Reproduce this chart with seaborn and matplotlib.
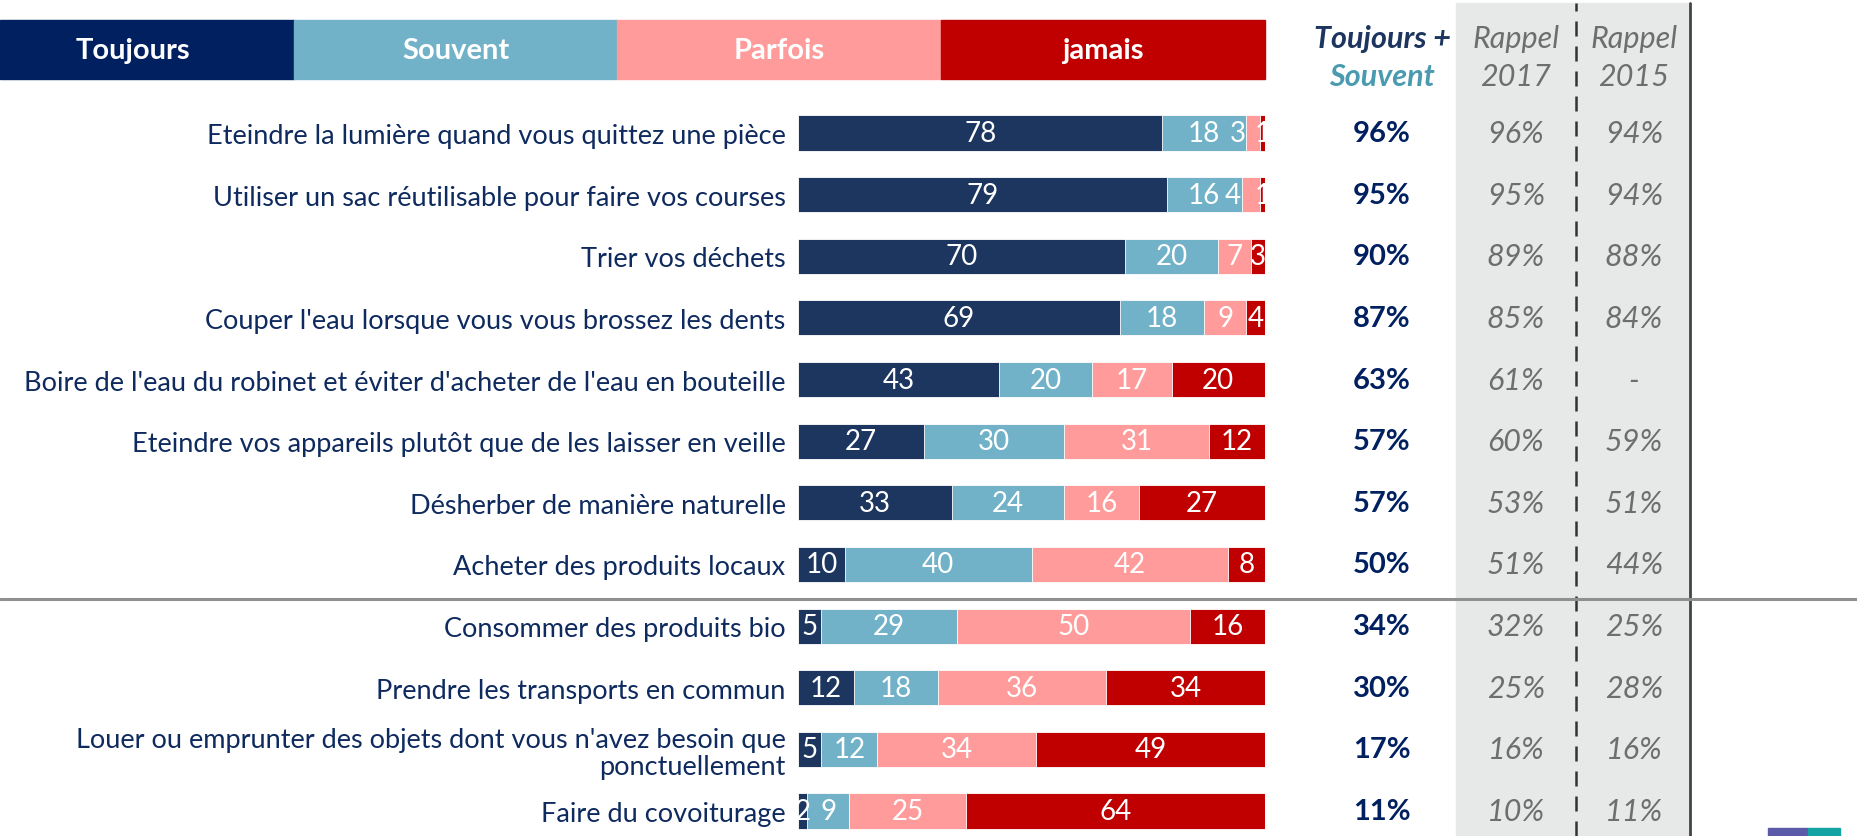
import matplotlib
matplotlib.use("Agg")
import matplotlib.pyplot as plt
import matplotlib.transforms as mtransforms
from matplotlib.patches import Rectangle
from matplotlib.lines import Line2D
import seaborn as sns
import pandas as pd
import numpy as np

# données
actions = [
    "Eteindre la lumière quand vous quittez une pièce",
    "Utiliser un sac réutilisable pour faire vos courses",
    "Trier vos déchets",
    "Couper l'eau lorsque vous vous brossez les dents",
    "Boire de l'eau du robinet et éviter d'acheter de l'eau en bouteille",
    "Eteindre vos appareils plutôt que de les laisser en veille",
    "Désherber de manière naturelle",
    "Acheter des produits locaux",
    "Consommer des produits bio",
    "Prendre les transports en commun",
    "Louer ou emprunter des objets dont vous n'avez besoin que\nponctuellement",
    "Faire du covoiturage",
]
toujours = [78, 79, 70, 69, 43, 27, 33, 10, 5, 12, 5, 2]
souvent = [18, 16, 20, 18, 20, 30, 24, 40, 29, 18, 12, 9]
parfois = [3, 4, 7, 9, 17, 31, 16, 42, 50, 36, 34, 25]
jamais = [1, 1, 3, 4, 20, 12, 27, 8, 16, 34, 49, 64]
total_ts = ["96%", "95%", "90%", "87%", "63%", "57%", "57%", "50%", "34%", "30%", "17%", "11%"]
rappel_2017 = ["96%", "95%", "89%", "85%", "61%", "60%", "53%", "51%", "32%", "25%", "16%", "10%"]
rappel_2015 = ["94%", "94%", "88%", "84%", "-", "59%", "51%", "44%", "25%", "28%", "16%", "11%"]

categories = ["Toujours", "Souvent", "Parfois", "jamais"]
bar_colors = ["#1d365f", "#71b2c9", "#ff9b9b", "#c00000"]
header_colors = ["#002060", "#71b2c9", "#ff9b9b", "#c00000"]
navy = "#0e2a5e"
grey_txt = "#6e6e6e"

sns.set_style("white")
plt.rcParams['font.family'] = ['Lato', 'DejaVu Sans']

W, H = 1857, 837
fig = plt.figure(figsize=(W / 100, H / 100), dpi=100)

def fx(px):
    return px / W

def fy(py):
    return 1 - py / H

# bande grise des rappels (derrière les axes)
fig.patches.append(Rectangle((fx(1456), 0), fx(1690) - fx(1456), fy(4),
                             transform=fig.transFigure, color="#e7e8e8", zorder=-2))
fig.lines.append(Line2D([fx(1576), fx(1576)], [0, fy(4)], transform=fig.transFigure,
                        color="#333333", lw=1.8, ls=(0, (6, 4)), zorder=-1))
fig.lines.append(Line2D([fx(1690), fx(1690)], [0, fy(4)], transform=fig.transFigure,
                        color="#444444", lw=2, zorder=-1))

# en-tête légende
edges = [0, 294, 617, 941, 1265]
text_x = [133, 456, 779, 1103]
for i, cat in enumerate(categories):
    fig.patches.append(Rectangle((fx(edges[i]), fy(80)), fx(edges[i + 1] - edges[i]), fy(21) - fy(80),
                                 transform=fig.transFigure, color=header_colors[i], zorder=-1))
    fig.text(fx(text_x[i]), fy(51), cat, color="white",
             fontsize=21, fontweight="bold", ha="center", va="center")

# barres empilées
ax = fig.add_axes([fx(798), 0, fx(1265) - fx(798), fy(103.2)])
ax.patch.set_alpha(0)
df = pd.DataFrame({"action": actions, "Toujours": toujours, "Souvent": souvent,
                   "Parfois": parfois, "jamais": jamais})
cum = df[categories].cumsum(axis=1)
for i in range(3, -1, -1):
    sns.barplot(x=cum[categories[i]], y=df["action"], color=bar_colors[i], orient="h",
                width=0.57, saturation=1, edgecolor="white", linewidth=0.6, ax=ax)

for r in range(len(actions)):
    left = 0
    for i, cat in enumerate(categories):
        v = df.loc[r, cat]
        x, ha = left + v / 2, "center"
        # segments trop étroits : étiquette décalée comme dans l'original
        if cat == "jamais" and v <= 1:
            x, ha = left - 1.2, "left"
        elif cat == "Parfois" and v <= 4 and df.loc[r, "jamais"] <= 1:
            x, ha = left - 0.2, "right"
        ax.text(x, r, str(v), color="white", fontsize=20,
                ha=ha, va="center", clip_on=True)
        left += v

ax.set_xlim(0, 100)
ax.set_ylim(11 + (837 - 812) / 61.64, -0.5)
ax.set_xlabel("")
ax.set_ylabel("")
ax.set_xticks([])
ax.tick_params(axis="y", length=0, pad=9)
for lab in ax.get_yticklabels():
    lab.set_fontsize(19.5)
    lab.set_color(navy)
    lab.set_linespacing(1.1)
sns.despine(ax=ax, left=True, bottom=True)

# séparation
x0 = -fx(798) / fx(467)
x1 = (1 - fx(798)) / fx(467)
ax.axhline(7.56, xmin=x0, xmax=x1, color="#909090", lw=2.2, clip_on=False)

# colonnes de droite
tr = mtransforms.blended_transform_factory(fig.transFigure, ax.transData)
fig.text(fx(1382), fy(39), "Toujours +", color="#1d365f", fontsize=22, fontweight="bold",
         style="italic", ha="center", va="center")
fig.text(fx(1382), fy(77), "Souvent", color="#4a9bb0", fontsize=22, fontweight="bold",
         style="italic", ha="center", va="center")
for xc, yr in [(1516, "2017"), (1634, "2015")]:
    fig.text(fx(xc), fy(39), "Rappel", color=grey_txt, fontsize=22, style="italic",
             ha="center", va="center")
    fig.text(fx(xc), fy(77), yr, color=grey_txt, fontsize=22, style="italic",
             ha="center", va="center")

for r in range(len(actions)):
    ax.text(fx(1382), r, total_ts[r], transform=tr, color="#002060", fontsize=21,
            fontweight="bold", ha="center", va="center")
    ax.text(fx(1516), r, rappel_2017[r], transform=tr, color=grey_txt, fontsize=22,
            style="italic", ha="center", va="center")
    ax.text(fx(1634), r, rappel_2015[r], transform=tr, color=grey_txt, fontsize=22,
            style="italic", ha="center", va="center")

# petit logo en bas à droite
fig.patches.append(Rectangle((fx(1768), 0), fx(40), fy(829), transform=fig.transFigure, color="#5a5aa8"))
fig.patches.append(Rectangle((fx(1808), 0), fx(32), fy(829), transform=fig.transFigure, color="#13a3a3"))

fig.savefig("out.png", dpi=100)
